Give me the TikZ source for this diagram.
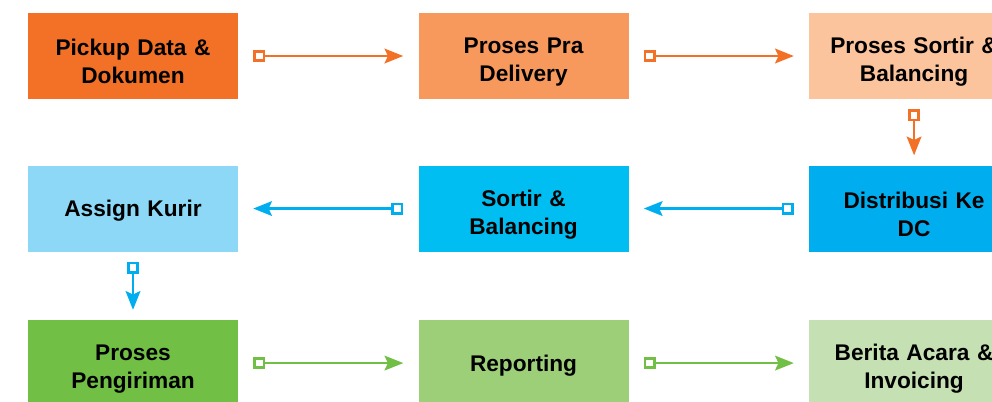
\documentclass[tikz,border=0pt]{standalone}
\usepackage{fontspec}
\setmainfont{Liberation Sans}
\usetikzlibrary{positioning,arrows.meta}

% farben der drei zeilen
\definecolor{orangeA}{RGB}{242,113,38}
\definecolor{orangeB}{RGB}{247,152,93}
\definecolor{orangeC}{RGB}{251,196,156}
\definecolor{blueA}{RGB}{140,216,246}
\definecolor{blueB}{RGB}{0,190,242}
\definecolor{blueC}{RGB}{0,174,239}
\definecolor{greenA}{RGB}{113,191,68}
\definecolor{greenB}{RGB}{156,207,119}
\definecolor{greenC}{RGB}{197,224,178}

\tikzset{
  box/.style={minimum width=157.5pt, minimum height=64.5pt, inner sep=0pt,
    text width=157.5pt, align=center, font=\bfseries\fontsize{17}{21}\selectfont,
    execute at end node={\par\vspace*{-8.5pt}}},
  flow/.style={line width=2pt,
    {Square[length=9pt,width=9pt,fill=white]}-{Stealth[length=14pt,width=11pt,inset=2.5pt]}},
  hflow/.style={flow, shorten <=11.25pt, shorten >=11.25pt},
  vflow/.style={flow, shorten <=7.5pt, shorten >=7.5pt}
}

\begin{document}
\begin{tikzpicture}[x=0.75pt,y=-0.75pt, node distance=49.5pt and 135pt]
    \useasboundingbox (0,0) rectangle (992,401);

    % --- Zeile 1 ---
    \node[box, fill=orangeA] (pickup) at (133,56) {Pickup Data \&\\Dokumen};
    \node[box, fill=orangeB, right=of pickup] (pradelivery) {Proses Pra\\Delivery};
    \node[box, fill=orangeC, right=of pradelivery] (sortirbal) {Proses Sortir \&\\Balancing};

    % --- Zeile 2 ---
    \node[box, fill=blueC, below=of sortirbal] (distribusi) {Distribusi Ke\\DC};
    \node[box, fill=blueB, left=of distribusi] (sortir) {Sortir \&\\Balancing};
    \node[box, fill=blueA, left=of sortir] (kurir) {Assign Kurir};

    % --- Zeile 3 ---
    \node[box, fill=greenA, below=51pt of kurir] (pengiriman) {Proses\\Pengiriman};
    \node[box, fill=greenB, right=of pengiriman] (reporting) {Reporting};
    \node[box, fill=greenC, right=of reporting] (invoicing) {Berita Acara \&\\Invoicing};

    % --- Pfeile ---
    \draw[hflow, orangeA] (pickup) -- (pradelivery);
    \draw[hflow, orangeA] (pradelivery) -- (sortirbal);
    \draw[vflow, orangeA] (sortirbal) -- (distribusi);

    \draw[hflow, blueC] (distribusi) -- (sortir);
    \draw[hflow, blueC] (sortir) -- (kurir);
    \draw[vflow, blueC] (kurir) -- (pengiriman);

    \draw[hflow, greenA] (pengiriman) -- (reporting);
    \draw[hflow, greenA] (reporting) -- (invoicing);
\end{tikzpicture}
\end{document}
